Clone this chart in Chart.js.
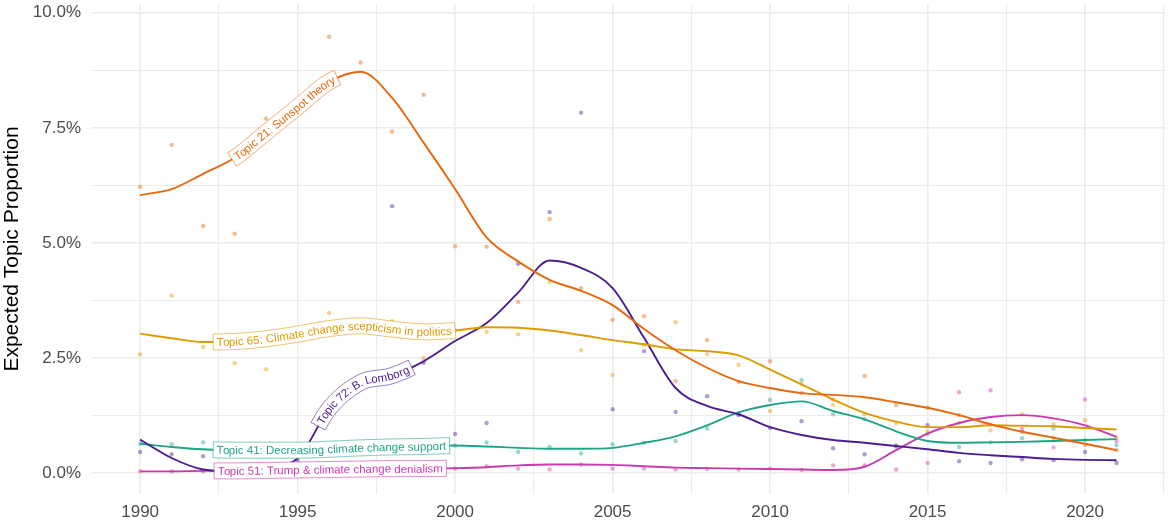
<!DOCTYPE html>
<html>
<head>
<meta charset="utf-8">
<script src="https://cdn.jsdelivr.net/npm/chart.js@4.4.1/dist/chart.umd.min.js"></script>
<style>
  html, body { margin: 0; padding: 0; background: #fff; }
  #wrap { width: 1170px; height: 522px; position: relative; }
</style>
</head>
<body>
<div id="wrap"><canvas id="chart"></canvas></div>
<script>
// ---- data (values in %) ----
const years = [1990,1991,1992,1993,1994,1995,1996,1997,1998,1999,2000,2001,2002,2003,2004,2005,
               2006,2007,2008,2009,2010,2011,2012,2013,2014,2015,2016,2017,2018,2019,2020,2021];

const xTicks = [1990,1992.5,1995,1997.5,2000,2002.5,2005,2007.5,2010,2012.5,2015,2017.5,2020,2022.5];
const xLabelled = [1990,1995,2000,2005,2010,2015,2020];
const yTicks = [0,1.25,2.5,3.75,5,6.25,7.5,8.75,10];
const yLabelled = [0,2.5,5,7.5,10];

const topicNames = [
  'Topic 21: Sunspot theory',
  'Topic 65: Climate change scepticism in politics',
  'Topic 72: B. Lomborg',
  'Topic 41: Decreasing climate change support',
  'Topic 51: Trump & climate change denialism',
];
const labelStart = [1992.92, 1992.32, 1995.65, 1992.32, 1992.35];

// smoothed curves
const smooth21 = [6.04,6.17,6.5,6.85,7.4,7.95,8.5,8.72,8.15,7.18,6.17,5.12,4.6,4.2,3.96,3.65,
                  3.13,2.67,2.29,2.0,1.85,1.74,1.7,1.65,1.54,1.42,1.26,1.06,0.9,0.77,0.64,0.5];
const smooth65 = [3.03,2.93,2.85,2.86,2.92,3.02,3.14,3.2,3.13,3.07,3.1,3.17,3.16,3.1,3.0,2.89,
                  2.8,2.69,2.65,2.56,2.25,1.93,1.6,1.31,1.12,1.0,1.0,1.04,1.03,1.02,0.98,0.95];
const smooth72 = [0.73,0.33,0.08,0.04,0.12,0.32,1.4,1.97,2.12,2.43,2.87,3.26,3.92,4.62,4.46,4.02,
                  2.94,1.85,1.46,1.28,1.0,0.83,0.72,0.66,0.59,0.52,0.44,0.39,0.35,0.31,0.29,0.28];
const smooth41 = [0.64,0.57,0.52,0.5,0.5,0.5,0.52,0.55,0.57,0.58,0.6,0.58,0.55,0.53,0.53,0.55,
                  0.66,0.8,1.04,1.32,1.48,1.56,1.35,1.17,0.91,0.7,0.66,0.67,0.68,0.7,0.72,0.74];
const smooth51 = [0.04,0.04,0.05,0.05,0.06,0.07,0.08,0.09,0.1,0.1,0.11,0.13,0.17,0.19,0.19,0.18,
                  0.15,0.12,0.11,0.1,0.09,0.08,0.07,0.14,0.5,0.86,1.09,1.22,1.26,1.19,1.04,0.79];

// yearly observed proportions (dots)
const obs21 = [6.22,7.13,5.37,5.2,7.7,8.1,9.48,8.92,7.42,8.22,4.93,4.92,3.72,5.52,4.02,3.33,
               3.41,2.0,2.89,1.98,2.43,1.74,1.6,2.11,1.48,1.42,1.26,1.06,0.9,0.77,0.61,0.5];
const obs65 = [2.58,3.86,2.74,2.39,2.26,3.1,3.48,3.2,3.3,2.5,3.1,3.07,3.02,4.15,2.67,2.13,
               2.78,3.28,2.59,2.35,1.35,1.93,1.48,1.28,1.09,0.91,1.09,0.93,1.28,1.07,1.15,0.77];
const obs72 = [0.46,0.41,0.37,0.1,0.15,0.27,1.4,1.95,5.8,2.4,0.85,1.09,4.55,5.67,7.83,1.39,
               2.65,1.33,1.67,1.26,0.98,1.13,0.54,0.41,0.58,1.04,0.26,0.22,0.3,0.28,0.46,0.22];
const obs41 = [0.64,0.63,0.67,0.5,0.48,0.55,0.5,0.52,0.55,0.56,0.6,0.67,0.46,0.57,0.43,0.63,
               0.66,0.7,0.97,1.3,1.59,2.02,1.28,1.17,0.6,0.85,0.57,0.67,0.76,0.97,0.72,0.61];
const obs51 = [0.04,0.04,0.04,0.05,0.06,0.07,0.08,0.08,0.09,0.1,0.1,0.15,0.1,0.08,0.19,0.1,
               0.1,0.08,0.09,0.08,0.1,0.07,0.17,0.17,0.08,0.22,1.76,1.8,0.96,0.56,1.6,0.7];

const topicColors = ['#E6670C', '#DE9B00', '#4B1D91', '#1FA585', '#CB3AAD'];
const smoothSeries = [smooth21, smooth65, smooth72, smooth41, smooth51];
const obsSeries = [obs21, obs65, obs72, obs41, obs51];

const FONT = '"Liberation Sans", Arial, Helvetica, sans-serif';

// ---- label drawn along the smooth curve (geomtextpath style) ----
function drawPathLabel(ctx, meta, startPx, text, color) {
  const pts = meta.data;
  const path = [];
  for (let i = 0; i < pts.length - 1; i++) {
    const a = pts[i], b = pts[i + 1];
    const c1x = a.cp2x ?? a.x, c1y = a.cp2y ?? a.y, c2x = b.cp1x ?? b.x, c2y = b.cp1y ?? b.y;
    for (let k = 0; k < 20; k++) {
      const t = k / 20, u = 1 - t;
      path.push({
        x: u*u*u*a.x + 3*u*u*t*c1x + 3*u*t*t*c2x + t*t*t*b.x,
        y: u*u*u*a.y + 3*u*u*t*c1y + 3*u*t*t*c2y + t*t*t*b.y,
      });
    }
  }
  const last = pts[pts.length - 1];
  path.push({ x: last.x, y: last.y });

  const cum = [0];
  for (let i = 1; i < path.length; i++) {
    cum.push(cum[i - 1] + Math.hypot(path[i].x - path[i - 1].x, path[i].y - path[i - 1].y));
  }
  const at = s => {
    let i = 1;
    while (i < cum.length - 1 && cum[i] < s) i++;
    const f = (s - cum[i - 1]) / ((cum[i] - cum[i - 1]) || 1);
    return { x: path[i - 1].x + f * (path[i].x - path[i - 1].x),
             y: path[i - 1].y + f * (path[i].y - path[i - 1].y) };
  };
  const angleAt = s => {
    const p1 = at(s - 2.5), p2 = at(s + 2.5);
    return Math.atan2(p2.y - p1.y, p2.x - p1.x);
  };

  let j = path.findIndex(p => p.x >= startPx);
  if (j < 1) j = 1;
  const s0 = cum[j - 1] + (startPx - path[j - 1].x) / ((path[j].x - path[j - 1].x) || 1) * (cum[j] - cum[j - 1]);

  ctx.save();
  ctx.font = '11.5px ' + FONT;
  const pad = 3.5, half = 8;
  const width = ctx.measureText(text).width;
  const s1 = s0 + width + 2 * pad;

  // box: offset the path both sides and close it
  const upper = [], lower = [];
  const steps = [];
  for (let s = s0; s < s1; s += 1) steps.push(s);
  steps.push(s1);
  steps.forEach(s => {
    const p = at(s), a = angleAt(s);
    const nx = -Math.sin(a), ny = Math.cos(a);
    upper.push([p.x - nx * half, p.y - ny * half]);
    lower.push([p.x + nx * half, p.y + ny * half]);
  });
  ctx.beginPath();
  upper.forEach((q, k) => k ? ctx.lineTo(q[0], q[1]) : ctx.moveTo(q[0], q[1]));
  for (let k = lower.length - 1; k >= 0; k--) ctx.lineTo(lower[k][0], lower[k][1]);
  ctx.closePath();
  ctx.fillStyle = '#ffffff';
  ctx.fill();
  ctx.lineJoin = 'round';
  ctx.strokeStyle = color + '99';
  ctx.lineWidth = 1;
  ctx.stroke();

  // characters
  ctx.fillStyle = color;
  ctx.textAlign = 'center';
  ctx.textBaseline = 'alphabetic';
  let prev = 0;
  for (let i = 0; i < text.length; i++) {
    const next = ctx.measureText(text.slice(0, i + 1)).width;
    const s = s0 + pad + (prev + next) / 2;
    const p = at(s);
    ctx.save();
    ctx.translate(p.x, p.y);
    ctx.rotate(angleAt(s));
    ctx.fillText(text[i], 0, 4);
    ctx.restore();
    prev = next;
  }
  ctx.restore();
}

const pathLabels = {
  id: 'pathLabels',
  afterDatasetsDraw(chart) {
    const xs = chart.scales.x;
    topicNames.forEach((name, i) => {
      drawPathLabel(chart.ctx, chart.getDatasetMeta(i), xs.getPixelForValue(labelStart[i]), name, topicColors[i]);
    });
  },
};

// ---- datasets ----
const lineSets = smoothSeries.map((vals, i) => ({
  type: 'line',
  label: topicNames[i],
  data: vals.map((v, k) => ({ x: years[k], y: v })),
  borderColor: topicColors[i],
  borderWidth: 1.9,
  pointRadius: 0,
  fill: false,
  cubicInterpolationMode: 'monotone',
  order: 1,
}));
const dotSets = obsSeries.map((vals, i) => ({
  type: 'line',
  label: topicNames[i] + ' (yearly)',
  data: vals.map((v, k) => ({ x: years[k], y: v })),
  showLine: false,
  pointRadius: 2.2,
  pointBorderWidth: 0,
  pointBackgroundColor: topicColors[i] + '70',
  order: 2,
}));

const isMajor = (v, list) => list.some(m => Math.abs(m - v) < 1e-6);
const noPad = s => { s.paddingTop = 0; s.paddingBottom = 0; s.paddingLeft = 0; s.paddingRight = 0; };

new Chart(document.getElementById('chart'), {
  type: 'line',
  data: { datasets: [...lineSets, ...dotSets] },
  options: {
    responsive: true, maintainAspectRatio: false, animation: false,
    layout: { padding: { left: 0, right: 4, top: 0, bottom: 0 } },
    plugins: { legend: { display: false }, tooltip: { enabled: false } },
    scales: {
      x: {
        type: 'linear', min: 1988.44, max: 2022.57,
        afterBuildTicks: s => { s.ticks = xTicks.map(v => ({ value: v })); },
        afterFit: s => { s.height = 28; noPad(s); },
        border: { display: false },
        grid: {
          color: '#EBEBEB', drawTicks: false,
          lineWidth: c => (c.tick && isMajor(c.tick.value, xLabelled)) ? 1.6 : 1.1,
        },
        ticks: {
          autoSkip: false, maxRotation: 0, padding: 8,
          color: '#4D4D4D', font: { family: FONT, size: 17 },
          callback: v => isMajor(v, xLabelled) ? String(v) : '',
        },
      },
      y: {
        type: 'linear', min: -0.452, max: 10.19,
        afterBuildTicks: s => { s.ticks = yTicks.map(v => ({ value: v })); },
        afterFit: s => { s.width = 91; noPad(s); },
        border: { display: false },
        grid: {
          color: '#EBEBEB', drawTicks: false,
          lineWidth: c => (c.tick && isMajor(c.tick.value, yLabelled)) ? 1.6 : 1.1,
        },
        ticks: {
          autoSkip: false, padding: 10,
          color: '#4D4D4D', font: { family: FONT, size: 17 },
          callback: v => isMajor(v, yLabelled) ? v.toFixed(1) + '%' : '',
        },
        title: {
          display: true, text: 'Expected Topic Proportion', color: '#000',
          font: { family: FONT, size: 21 }, padding: { top: 0, bottom: 0 },
        },
      },
    },
  },
  plugins: [pathLabels],
});
</script>
</body>
</html>
